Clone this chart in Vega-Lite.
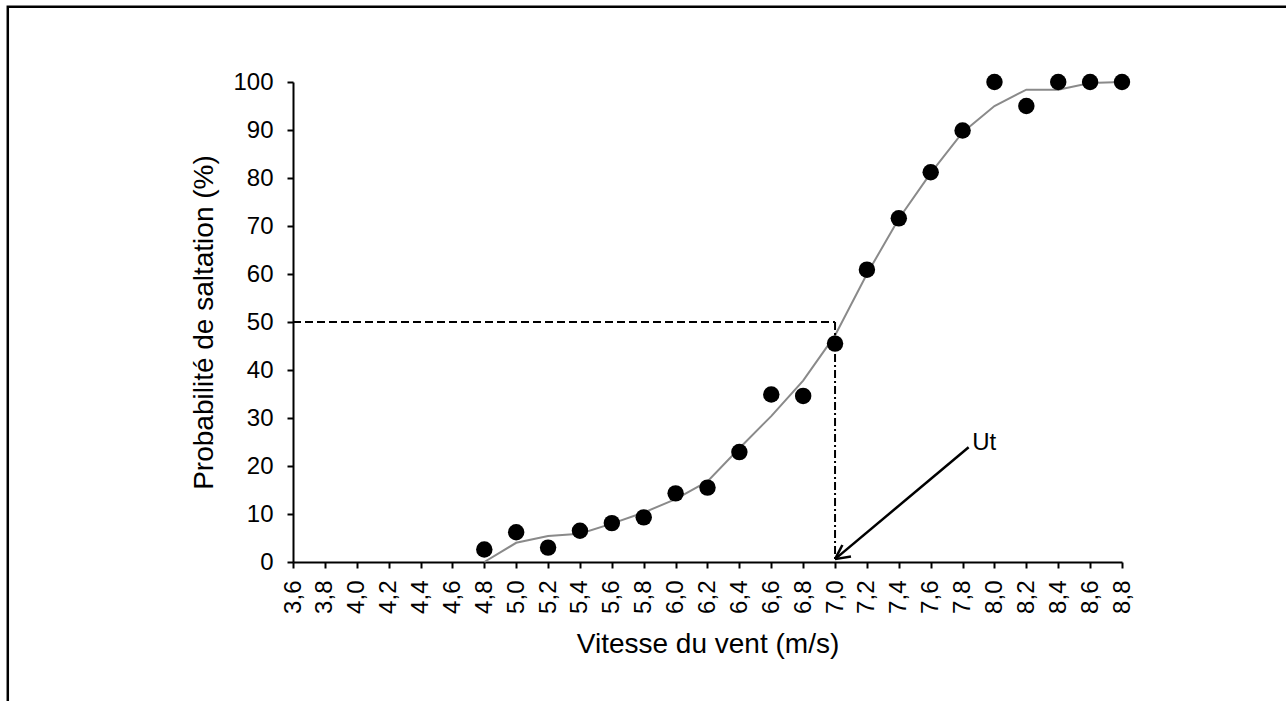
{
  "$schema": "https://vega.github.io/schema/vega-lite/v6.json",
  "width": 829,
  "height": 480,
  "autosize": {"type": "none"},
  "padding": {"left": 293, "top": 82, "right": 164, "bottom": 139},
  "background": "white",
  "config": {
    "view": {"stroke": null},
    "font": "Liberation Sans",
    "axis": {
      "grid": false,
      "domainColor": "#000000",
      "domainWidth": 2,
      "tickColor": "#000000",
      "tickWidth": 2,
      "tickSize": 6,
      "labelColor": "#000000",
      "titleColor": "#000000",
      "labelFont": "Liberation Sans",
      "titleFont": "Liberation Sans",
      "labelFontSize": 24,
      "titleFontSize": 28,
      "titleFontWeight": "normal",
      "labelOverlap": false,
      "labelFlush": false
    }
  },
  "datasets": {
    "obs": [
      {"v": 4.8, "p": 2.6, "fit": 0},
      {"v": 5.0, "p": 6.2, "fit": 4.0},
      {"v": 5.2, "p": 3.0, "fit": 5.4},
      {"v": 5.4, "p": 6.5, "fit": 5.9},
      {"v": 5.6, "p": 8.1, "fit": 8.0},
      {"v": 5.8, "p": 9.3, "fit": 10.3},
      {"v": 6.0, "p": 14.3, "fit": 13.1},
      {"v": 6.2, "p": 15.5, "fit": 16.8},
      {"v": 6.4, "p": 22.9, "fit": 23.7},
      {"v": 6.6, "p": 34.9, "fit": 30.4},
      {"v": 6.8, "p": 34.6, "fit": 37.8},
      {"v": 7.0, "p": 45.5, "fit": 47.2},
      {"v": 7.2, "p": 60.9, "fit": 60.0},
      {"v": 7.4, "p": 71.6, "fit": 71.5},
      {"v": 7.6, "p": 81.2, "fit": 81.0},
      {"v": 7.8, "p": 89.9, "fit": 89.5},
      {"v": 8.0, "p": 100, "fit": 95.0},
      {"v": 8.2, "p": 95.0, "fit": 98.4},
      {"v": 8.4, "p": 100, "fit": 98.4},
      {"v": 8.6, "p": 100, "fit": 99.8},
      {"v": 8.8, "p": 100, "fit": 100}
    ],
    "one": [{"label": "Ut"}]
  },
  "layer": [
    {
      "data": {"name": "one"},
      "mark": {"type": "rect", "fill": null, "stroke": "#000000", "strokeWidth": 2.5, "clip": false},
      "encoding": {
        "x": {
          "datum": 1.811,
          "type": "quantitative",
          "scale": {"domain": [3.6, 8.8], "nice": false, "zero": false},
          "axis": {
            "title": "Vitesse du vent (m/s)",
            "values": [3.6, 3.8, 4.0, 4.2, 4.4, 4.6, 4.8, 5.0, 5.2, 5.4, 5.6, 5.8, 6.0, 6.2, 6.4, 6.6, 6.8, 7.0, 7.2, 7.4, 7.6, 7.8, 8.0, 8.2, 8.4, 8.6, 8.8],
            "tickCount": 100,
            "labelExpr": "replace(format(datum.value, '.1f'), '.', ',')",
            "labelAngle": -90,
            "labelPadding": 12,
            "titlePadding": 17,
            "labelOverlap": false
          }
        },
        "x2": {"datum": 9.95},
        "y": {
          "datum": 115.7,
          "type": "quantitative",
          "scale": {"domain": [0, 100], "nice": false, "zero": false},
          "axis": {
            "title": "Probabilité de saltation (%)",
            "values": [0, 10, 20, 30, 40, 50, 60, 70, 80, 90, 100],
            "tickCount": 100,
            "labelPadding": 14,
            "titlePadding": 14,
            "labelOverlap": false
          }
        },
        "y2": {"datum": -40}
      }
    },
    {
      "data": {"name": "obs"},
      "mark": {"type": "line", "color": "#8a8a8a", "strokeWidth": 2},
      "encoding": {
        "x": {"field": "v", "type": "quantitative", "scale": {"domain": [3.6, 8.8], "nice": false, "zero": false}},
        "y": {"field": "fit", "type": "quantitative", "scale": {"domain": [0, 100], "nice": false, "zero": false}}
      }
    },
    {
      "data": {"name": "obs"},
      "mark": {"type": "point", "shape": "circle", "filled": true, "color": "#000000", "opacity": 1, "size": 270},
      "encoding": {
        "x": {"field": "v", "type": "quantitative", "scale": {"domain": [3.6, 8.8], "nice": false, "zero": false}},
        "y": {"field": "p", "type": "quantitative", "scale": {"domain": [0, 100], "nice": false, "zero": false}}
      }
    },
    {
      "data": {"name": "one"},
      "mark": {"type": "rule", "color": "#000000", "strokeWidth": 2, "strokeDash": [8, 4]},
      "encoding": {
        "x": {"datum": 3.6, "type": "quantitative", "scale": {"domain": [3.6, 8.8], "nice": false, "zero": false}},
        "x2": {"datum": 7.0},
        "y": {"datum": 50, "type": "quantitative", "scale": {"domain": [0, 100], "nice": false, "zero": false}}
      }
    },
    {
      "data": {"name": "one"},
      "mark": {"type": "rule", "color": "#000000", "strokeWidth": 2, "strokeDash": [8, 3, 2, 3]},
      "encoding": {
        "x": {"datum": 7.0, "type": "quantitative", "scale": {"domain": [3.6, 8.8], "nice": false, "zero": false}},
        "y": {"datum": 50, "type": "quantitative", "scale": {"domain": [0, 100], "nice": false, "zero": false}},
        "y2": {"datum": 0}
      }
    },
    {
      "data": {"name": "one"},
      "mark": {"type": "rule", "color": "#000000", "strokeWidth": 2.5},
      "encoding": {
        "x": {"datum": 7.838, "type": "quantitative", "scale": {"domain": [3.6, 8.8], "nice": false, "zero": false}},
        "y": {"datum": 23.9, "type": "quantitative", "scale": {"domain": [0, 100], "nice": false, "zero": false}},
        "x2": {"datum": 7.0},
        "y2": {"datum": 0.6}
      }
    },
    {
      "data": {"name": "one"},
      "mark": {"type": "rule", "color": "#000000", "strokeWidth": 2.5},
      "encoding": {
        "x": {"datum": 7.0, "type": "quantitative", "scale": {"domain": [3.6, 8.8], "nice": false, "zero": false}},
        "y": {"datum": 0.6, "type": "quantitative", "scale": {"domain": [0, 100], "nice": false, "zero": false}},
        "x2": {"datum": 7.1},
        "y2": {"datum": 1.15}
      }
    },
    {
      "data": {"name": "one"},
      "mark": {"type": "rule", "color": "#000000", "strokeWidth": 2.5},
      "encoding": {
        "x": {"datum": 7.0, "type": "quantitative", "scale": {"domain": [3.6, 8.8], "nice": false, "zero": false}},
        "y": {"datum": 0.6, "type": "quantitative", "scale": {"domain": [0, 100], "nice": false, "zero": false}},
        "x2": {"datum": 7.046},
        "y2": {"datum": 3.54}
      }
    },
    {
      "data": {"name": "one"},
      "mark": {"type": "text", "font": "Liberation Sans", "fontSize": 24, "color": "#000000", "align": "left", "baseline": "alphabetic"},
      "encoding": {
        "text": {"field": "label"},
        "x": {"datum": 7.86, "type": "quantitative", "scale": {"domain": [3.6, 8.8], "nice": false, "zero": false}},
        "y": {"datum": 23.33, "type": "quantitative", "scale": {"domain": [0, 100], "nice": false, "zero": false}}
      }
    }
  ]
}
